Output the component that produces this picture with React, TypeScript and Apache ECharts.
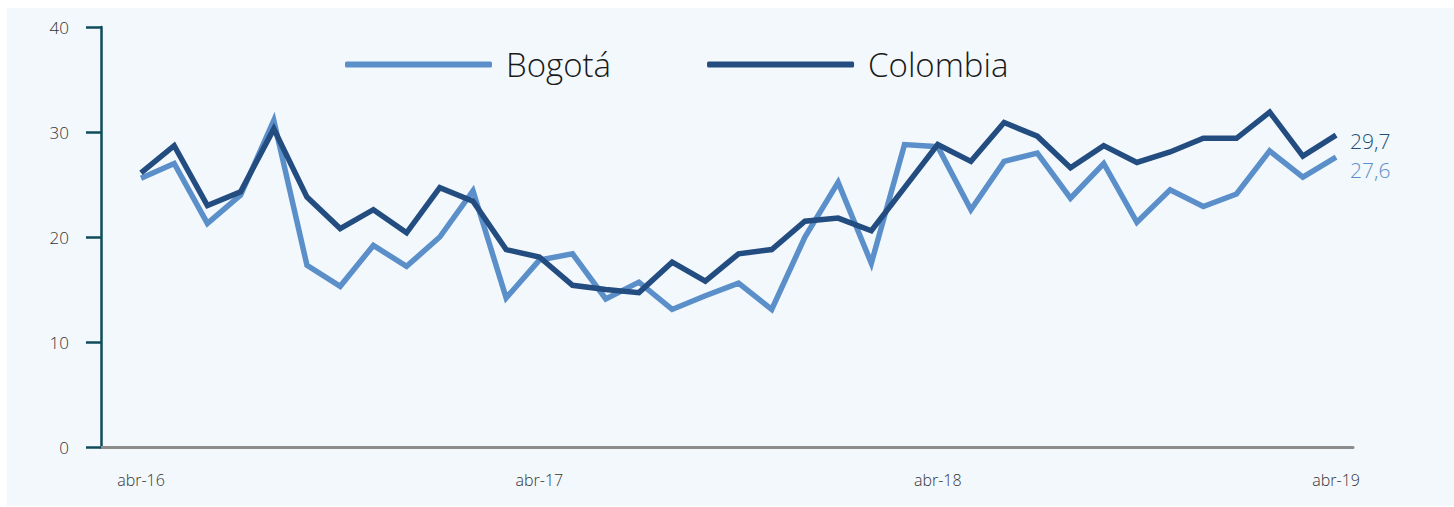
import React, { useEffect, useRef } from "react";
import * as echarts from "echarts";

const months: string[] = [
  "abr-16","may-16","jun-16","jul-16","ago-16","sep-16","oct-16","nov-16","dic-16","ene-17","feb-17","mar-17",
  "abr-17","may-17","jun-17","jul-17","ago-17","sep-17","oct-17","nov-17","dic-17","ene-18","feb-18","mar-18",
  "abr-18","may-18","jun-18","jul-18","ago-18","sep-18","oct-18","nov-18","dic-18","ene-19","feb-19","mar-19",
  "abr-19",
];

const bogota: number[] = [
  25.6, 27.0, 21.3, 24.0, 31.1, 17.3, 15.3, 19.2, 17.2, 20.0, 24.4, 14.2,
  17.8, 18.4, 14.1, 15.7, 13.1, 14.4, 15.6, 13.1, 20.0, 25.2, 17.5, 28.8,
  28.6, 22.6, 27.2, 28.0, 23.7, 27.0, 21.4, 24.5, 22.9, 24.1, 28.2, 25.7,
  27.6,
];

const colombia: number[] = [
  26.1, 28.7, 23.0, 24.3, 30.3, 23.8, 20.8, 22.6, 20.4, 24.7, 23.4, 18.8,
  18.1, 15.4, 15.0, 14.7, 17.6, 15.8, 18.4, 18.8, 21.5, 21.8, 20.6, 24.7,
  28.8, 27.2, 30.9, 29.6, 26.6, 28.7, 27.1, 28.1, 29.4, 29.4, 31.9, 27.7,
  29.7,
];

const xLabelIdx: number[] = [0, 12, 24, 36];
const yTicks: number[] = [0, 10, 20, 30, 40];

const FONT = "Open Sans";
const LIGHT = "#5B8FC9";
const DARK = "#234D80";

const fmt = (v: number) => v.toFixed(1).replace(".", ",");

export default function App() {
  const ref = useRef<HTMLDivElement>(null);
  useEffect(() => {
    if (!ref.current) return;
    const chart = echarts.init(ref.current, undefined, { renderer: "svg" });
    const toPairs = (arr: number[]) => arr.map((v, i) => [i, v]);
    chart.setOption({
      animation: false,
      backgroundColor: "#F3F8FC",
      textStyle: { fontFamily: FONT, fontWeight: 300 },
      grid: { left: 94, top: 19, width: 1252, height: 420, containLabel: false },
      legend: {
        top: 35,
        left: 333,
        itemWidth: 147,
        itemHeight: 6,
        itemGap: 96,
        icon: "roundRect",
        textStyle: { fontFamily: FONT, fontWeight: 300, fontSize: 33, color: "#1a1a1a", padding: [0, 0, 0, 9] },
        data: [
          { name: "Bogotá", itemStyle: { color: LIGHT } },
          { name: "Colombia", itemStyle: { color: DARK } },
        ],
      },
      xAxis: {
        type: "value",
        min: -1.205,
        max: 36.51,
        splitLine: { show: false },
        axisLine: { show: true, onZero: false, lineStyle: { color: "#8C8C8C", width: 3 } },
        axisTick: { show: false },
        axisLabel: {
          customValues: xLabelIdx,
          formatter: (v: number) => months[Math.round(v)] ?? "",
          fontFamily: FONT,
          fontWeight: 300,
          fontSize: 16,
          color: "#333",
          margin: 25,
        },
      },
      yAxis: {
        type: "value",
        min: 0,
        max: 40,
        interval: 10,
        splitLine: { show: false },
        axisLine: { show: true, onZero: false, lineStyle: { color: "#0E4C5A", width: 2.5 } },
        axisTick: {
          show: true,
          customValues: yTicks,
          length: 15,
          lineStyle: { color: "#0E4C5A", width: 2.5 },
        },
        axisLabel: { fontFamily: FONT, fontWeight: 300, fontSize: 17, color: "#333", margin: 32 },
      },
      series: [
        {
          name: "Bogotá",
          type: "line",
          data: toPairs(bogota),
          symbol: "none",
          lineStyle: { color: LIGHT, width: 5.5, join: "miter" },
          itemStyle: { color: LIGHT },
          z: 2,
          endLabel: {
            show: true,
            formatter: (p: any) => fmt(p.value[1]),
            color: LIGHT,
            fontFamily: FONT,
            fontWeight: 300,
            fontSize: 21,
            lineHeight: 21,
            distance: 14,
            offset: [0, 13],
          },
        },
        {
          name: "Colombia",
          type: "line",
          data: toPairs(colombia),
          symbol: "none",
          lineStyle: { color: DARK, width: 5.5, join: "miter" },
          itemStyle: { color: DARK },
          z: 3,
          endLabel: {
            show: true,
            formatter: (p: any) => fmt(p.value[1]),
            color: "#1F4E79",
            fontFamily: FONT,
            fontWeight: 300,
            fontSize: 21,
            lineHeight: 21,
            distance: 14,
            offset: [0, 6],
          },
        },
      ],
    });
    return () => chart.dispose();
  }, []);
  return (
    <div
      ref={ref}
      style={{ position: "absolute", left: 7, top: 8, width: 1447, height: 498 }}
    />
  );
}
